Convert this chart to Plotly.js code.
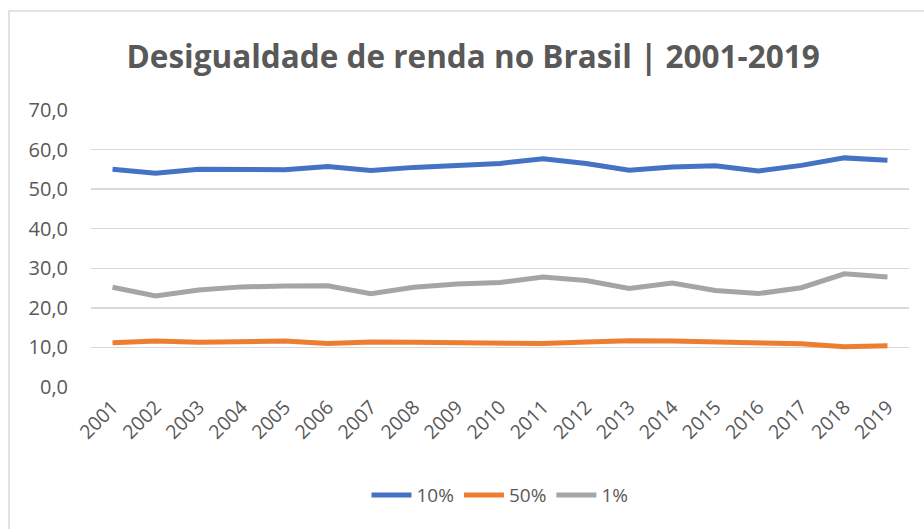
<!DOCTYPE html>
<html>
<head>
<meta charset="utf-8">
<script src="https://cdn.plot.ly/plotly-3.0.1.min.js"></script>
<style>html,body{margin:0;padding:0;background:#fff;}#chart{width:924px;height:529px;}</style>
</head>
<body>
<div id="chart"></div>
<script>
const years = ['2001','2002','2003','2004','2005','2006','2007','2008','2009','2010','2011','2012','2013','2014','2015','2016','2017','2018','2019'];
const top10 = [55.0,54.0,55.0,55.0,54.9,55.7,54.7,55.5,56.0,56.5,57.7,56.5,54.8,55.6,55.9,54.6,56.0,57.9,57.3];
const bottom50 = [11.2,11.6,11.3,11.3,11.6,11.0,11.4,11.3,11.1,11.1,11.0,11.4,11.7,11.6,11.4,11.2,10.9,10.2,10.4];
const top1 = [25.2,23.0,24.5,25.3,25.5,25.6,23.6,25.2,26.0,26.4,27.8,26.9,24.9,26.3,24.4,23.6,25.1,28.6,27.8];
const seriesNames = ['10%','50%','1%'];
const seriesColors = ['#4472C4','#ED7D31','#A5A5A5'];

const font = 'Open Sans, Noto Sans, sans-serif';
const traces = [top10, bottom50, top1].map((vals, i) => ({
  type: 'scatter', mode: 'lines', x: years, y: vals, name: seriesNames[i],
  line: {color: seriesColors[i], width: 5}
}));

const layout = {
  width: 924, height: 529,
  margin: {l: 91, r: 15, t: 110, b: 142},
  paper_bgcolor: '#fff', plot_bgcolor: '#fff',
  separators: ',.',
  font: {family: font, color: '#595959', size: 19},
  title: {text: '<b>Desigualdade de renda no Brasil | 2001-2019</b>', x: 0.512, xanchor: 'center', y: 0.893, yanchor: 'middle',
    font: {family: font, size: 31.5, color: '#595959'}},
  xaxis: {type: 'category', range: [-0.5, 18.5], tickangle: -45, showgrid: false, zeroline: false,
    showline: false, ticks: '', ticklabelstandoff: 4, tickfont: {size: 19.5, color: '#595959'}, fixedrange: true},
  yaxis: {range: [0, 70], dtick: 10, tickformat: '.1f', gridcolor: '#D9D9D9', gridwidth: 1.3, zeroline: false,
    showline: false, ticks: '', ticklabelstandoff: 22, tickfont: {size: 20, color: '#595959'}, fixedrange: true},
  showlegend: true,
  legend: {orientation: 'h', x: 0.5, xanchor: 'center', y: -0.39, yanchor: 'middle',
    font: {size: 19, color: '#595959'}, itemwidth: 40, traceorder: 'normal'},
  shapes: [{type: 'rect', xref: 'paper', yref: 'paper', x0: (9-91)/818, x1: 2, y0: -2, y1: 1 + (110-11)/277,
    line: {color: '#D9D9D9', width: 1.5}, layer: 'below'}]
};
Plotly.newPlot('chart', traces, layout, {displayModeBar: false, staticPlot: true});
</script>
</body>
</html>
